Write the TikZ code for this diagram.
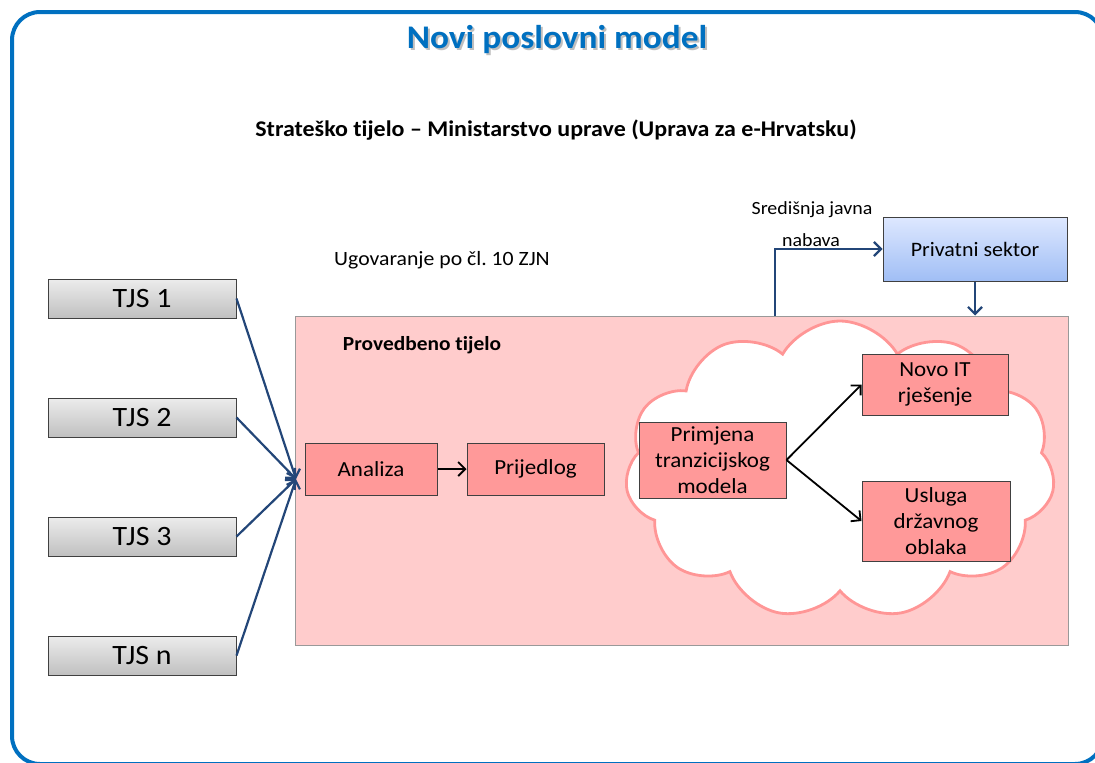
\documentclass[tikz,border=0pt]{standalone}
\usepackage{fontspec}
\setmainfont{Carlito}[FakeStretch=1.07,RawFeature={-liga}]
\usetikzlibrary{arrows.meta,shapes.symbols,calc}
\definecolor{frameblue}{RGB}{0,112,192}
\definecolor{arrowblue}{RGB}{35,70,120}
\definecolor{pinkbg}{RGB}{255,204,204}
\definecolor{boxred}{RGB}{255,153,153}
\definecolor{cloudline}{RGB}{255,150,150}
\definecolor{privtop}{RGB}{222,232,255}
\definecolor{privbot}{RGB}{160,190,245}
\definecolor{tjstop}{RGB}{236,236,236}
\definecolor{tjsbot}{RGB}{192,192,192}
\tikzset{
  tjsbox/.style={draw=black!75, line width=1, top color=tjstop, bottom color=tjsbot,
    minimum width=188, minimum height=39, inner sep=0, font=\fontsize{28}{32}\selectfont},
  redbox/.style={draw=black!75, line width=1, fill=boxred, align=center, inner sep=0,
    font=\fontsize{21.5}{26}\selectfont},
  barrow/.style={draw=arrowblue, line width=2.2, -{Straight Barb[length=7,width=14]}},
  karrow/.style={draw=black, line width=1.8, -{Straight Barb[length=7,width=14]}},
  lbl/.style={inner sep=0, font=\fontsize{20.3}{24}\selectfont}
}
\begin{document}
\frenchspacing
\begin{tikzpicture}[x=1pt,y=-1pt]
\useasboundingbox (0,0) rectangle (1095,763);
% outer frame
\draw[frameblue, line width=4, rounded corners=28] (12,12) rectangle (1103,764);
% title
\node[text=black!25, font=\fontsize{33}{38}\bfseries] at (559,42) {Novi poslovni model};
\node[text=frameblue, font=\fontsize{33}{38}\bfseries] (title) at (557,40) {Novi poslovni model};
\node[lbl, font=\fontsize{22.4}{26}\bfseries] (strat) at (556,130) {Strateško tijelo -- Ministarstvo uprave (Uprava za e-Hrvatsku)};
\node[lbl] (ugov) at (442,260) {Ugovaranje po čl. 10 ZJN};
\node[lbl, font=\fontsize{18.6}{22}\selectfont] (sjn1) at (812,210) {Središnja javna};
\node[lbl, font=\fontsize{18.6}{22}\selectfont] (sjn2) at (811,240) {nabava};
% private sector
\node[draw=black!75, line width=1, top color=privtop, bottom color=privbot, minimum width=184,
  minimum height=64, inner sep=0, font=\fontsize{20.5}{24}\selectfont] (priv) at (975,249) {Privatni sektor};
% main pink box
\node[draw=black!40, line width=1, fill=pinkbg, minimum width=773, minimum height=329, inner sep=0] (main) at (681.5,480.5) {};
\node[lbl, font=\fontsize{20}{24}\bfseries] (prov) at (422,345) {Provedbeno tijelo};
% cloud
\node[cloud, cloud puffs=11, cloud puff arc=120, draw=cloudline, line width=2.8, fill=white,
  minimum width=430, minimum height=298, inner sep=0] (cloud) at (840,470) {};
% boxes
\node[redbox, minimum width=132, minimum height=52] (anal) at (371,469) {Analiza};
\node[redbox, minimum width=137, minimum height=52] (prij) at (535.5,469) {Prijedlog};
\node[redbox, minimum width=147, minimum height=76] (prim) at (712.5,460) {Primjena\\tranzicijskog\\modela};
\node[redbox, minimum width=146, minimum height=61] (novo) at (935,384.5) {Novo IT\\rješenje};
\node[redbox, minimum width=148, minimum height=80] (uslu) at (936,521) {Usluga\\državnog\\oblaka};
% TJS
\node[tjsbox] (t1) at (142,298.5) {TJS 1};
\node[tjsbox] (t2) at (142,417.5) {TJS 2};
\node[tjsbox] (t3) at (142,536.5) {TJS 3};
\node[tjsbox] (tn) at (142,655.5) {TJS n};
\coordinate (in) at (296,479);
\foreach \t in {t1,t2,t3,tn} \draw[barrow] (\t.east) -- (in);
% arrows
\draw[karrow] (anal) -- (prij);
\draw[karrow] (prim.east) -- (novo.west);
\draw[karrow] (prim.east) -- (uslu.west);
\coordinate (sjnstart) at (775,316);
\draw[barrow] (sjnstart) |- (priv.west);
\draw[barrow] (priv.south) -- (priv.south |- main.north);
\end{tikzpicture}
\end{document}
